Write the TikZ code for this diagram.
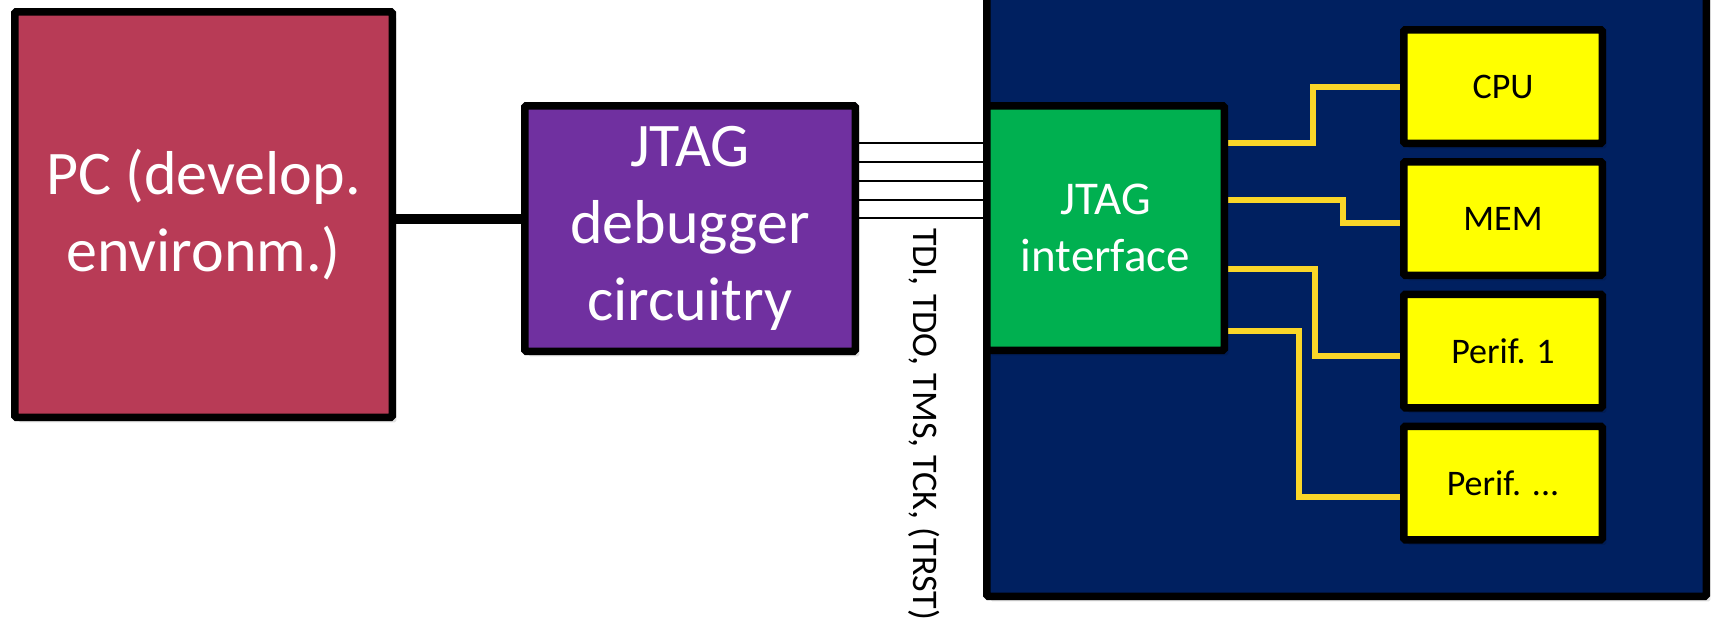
\documentclass[tikz,border=0pt]{standalone}
\usepackage{fontspec}
\setmainfont{Carlito}
\usetikzlibrary{shadows}
\definecolor{pccol}{RGB}{184,59,86}
\definecolor{dbgcol}{RGB}{112,48,160}
\definecolor{ifcol}{RGB}{0,176,80}
\definecolor{chipcol}{RGB}{0,32,96}
\definecolor{blkcol}{RGB}{255,255,0}
\definecolor{wirecol}{RGB}{250,214,40}
\pgfdeclarelayer{bg}
\pgfdeclarelayer{wires}
\pgfsetlayers{bg,wires,main}
\begin{document}
\begin{tikzpicture}[x=1pt,y=-1pt,
  box/.style={draw=black, line width=7.5pt, rounded corners=1.5pt, inner sep=0pt, align=center,
    drop shadow={shadow xshift=4pt, shadow yshift=-5pt, opacity=0.12, fill=black},
    drop shadow={shadow xshift=2pt, shadow yshift=-3pt, opacity=0.18, fill=black}},
  bigtxt/.style={font=\fontsize{62}{77}\selectfont, text=white},
  midtxt/.style={font=\fontsize{47}{57}\selectfont, text=white},
  smalltxt/.style={font=\fontsize{36}{44}\selectfont, text=black},
  blk/.style={box, fill=blkcol, smalltxt, minimum width=198.5pt, minimum height=113.5pt},
  wire/.style={draw=wirecol, line width=5.5pt},
  sig/.style={draw=black, line width=2.2pt},
  link/.style={draw=black, line width=10pt}]
\useasboundingbox (0,0) rectangle (1714,633);
\begin{pgfonlayer}{bg}
\fill[white] (0,0) rectangle (1714,633);
\node[box, fill=chipcol, minimum width=719.5pt, minimum height=622.5pt] (chip) at (1346.5,285) {};
\end{pgfonlayer}
\node[box, fill=pccol, bigtxt, minimum width=377.5pt, minimum height=405.5pt] (pc) at (203.5,214.5) {PC (develop.\\environm.)};
\node[box, fill=dbgcol, bigtxt, minimum width=330.5pt, minimum height=245.5pt] (dbg) at (690,228.5) {JTAG\\debugger\\circuitry};
\node[box, fill=ifcol, midtxt, minimum width=237.5pt, minimum height=244.5pt] (ifc) at (1105.5,228) {JTAG\\interface};
\node[blk] (cpu) at (1503,86.5) {CPU};
\node[blk] (mem) at (1503,218.5) {MEM};
\node[blk] (p1) at (1503,351) {Perif. 1};
\node[blk] (pn) at (1503,483) {Perif. ...};
\node[smalltxt, rotate=-90, anchor=base west, inner sep=0pt] (siglbl) at (913,228) {TDI, TDO, TMS, TCK, (TRST)};
\begin{pgfonlayer}{wires}
\draw[link] (pc.east |- 0,219) -- (dbg.west |- 0,219);
\foreach \yy in {143,162,181,200,218}
  \draw[sig] (dbg.east |- 0,\yy) -- (chip.west |- 0,\yy);
\draw[wire] (ifc.east |- 0,143) -| (1313,87) -- (cpu.west |- 0,87);
\draw[wire] (ifc.east |- 0,200) -| (1343,223) -- (mem.west |- 0,223);
\draw[wire] (ifc.east |- 0,269) -| (1315,356) -- (p1.west |- 0,356);
\draw[wire] (ifc.east |- 0,331) -| (1299,497) -- (pn.west |- 0,497);
\end{pgfonlayer}
\end{tikzpicture}
\end{document}
